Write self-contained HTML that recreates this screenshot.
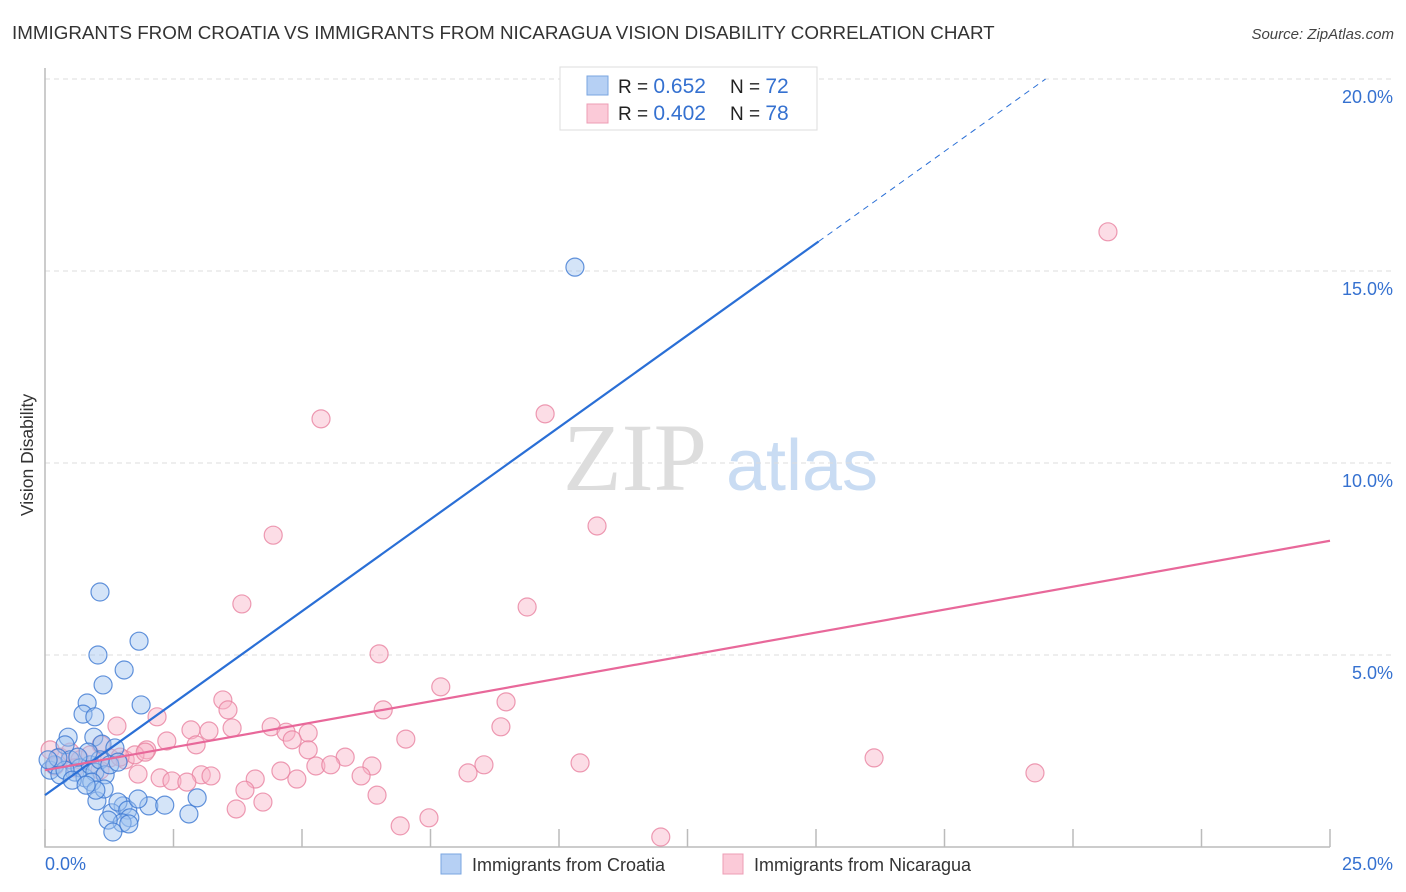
<!DOCTYPE html>
<html><head><meta charset="utf-8">
<style>
body{margin:0;background:#fff;font-family:"Liberation Sans",sans-serif;}
svg{display:block}
</style></head>
<body>
<svg id="chart" width="1406" height="892" xmlns="http://www.w3.org/2000/svg">
<text x="12" y="39" font-size="18.8" fill="#333" font-family="Liberation Sans, sans-serif">IMMIGRANTS FROM CROATIA VS IMMIGRANTS FROM NICARAGUA VISION DISABILITY CORRELATION CHART</text>
<text x="1394" y="39" font-size="15" fill="#444" font-style="italic" text-anchor="end">Source: ZipAtlas.com</text>
<text transform="translate(33,455) rotate(-90)" font-size="17.5" fill="#333" text-anchor="middle">Vision Disability</text>
<g>
<text x="635" y="490" font-size="96" fill="#ddd" font-family="Liberation Serif, serif" text-anchor="middle">ZIP</text>
<text x="802" y="490" font-size="72" fill="#c9dcf3" text-anchor="middle">atlas</text>
</g>
<g id="grid"></g>
<g id="marks"></g>
<g>
<rect x="560" y="67" width="257" height="63" fill="#fff" stroke="#ddd"/>
<rect x="587" y="76" width="21" height="19" fill="#b6d0f4" stroke="#7aa6e0"/>
<rect x="587" y="104" width="21" height="19" fill="#fbcad8" stroke="#ec9db5"/>
<text x="618" y="93" font-size="19" fill="#222">R = <tspan fill="#3571d0" font-size="21">0.652</tspan><tspan x="730">N = </tspan><tspan fill="#3571d0" font-size="21">72</tspan></text>
<text x="618" y="120" font-size="19" fill="#222">R = <tspan fill="#3571d0" font-size="21">0.402</tspan><tspan x="730">N = </tspan><tspan fill="#3571d0" font-size="21">78</tspan></text>
</g>
<g>
<rect x="441" y="854" width="20" height="20" fill="#b6d0f4" stroke="#7aa6e0"/>
<text x="472" y="871" font-size="18" fill="#333">Immigrants from Croatia</text>
<rect x="723" y="854" width="20" height="20" fill="#fbcad8" stroke="#ec9db5"/>
<text x="754" y="871" font-size="18" fill="#333">Immigrants from Nicaragua</text>
</g>
</svg>
<script>
const xTicks=[0,2.5,5,7.5,10,12.5,15,17.5,20,22.5,25];
const yTicks=[5,10,15,20];
const yTickLabels=["5.0%","10.0%","15.0%","20.0%"];
const xEndLabels=["0.0%","25.0%"];
const croatiaX=[1.07,1.83,1.03,1.54,1.13,0.82,1.87,0.74,0.97,0.45,0.95,1.11,1.36,0.39,0.10,0.19,0.29,0.49,0.58,0.68,0.78,0.88,0.97,1.07,1.17,1.26,0.39,0.53,0.25,0.84,0.06,0.91,0.64,1.42,1.01,1.52,1.30,1.42,1.61,1.65,1.50,1.23,1.32,1.63,2.02,2.33,2.96,2.80,1.81,1.15,0.99,0.80,10.31];
const croatiaY=[6.64,5.36,5.00,4.61,4.22,3.75,3.70,3.46,3.39,2.86,2.86,2.68,2.58,2.66,2.0,2.14,1.88,2.27,1.95,2.06,1.80,2.14,1.95,2.27,1.88,2.14,2.0,1.74,2.32,2.47,2.27,1.69,2.34,2.21,1.20,1.07,0.89,1.17,0.96,0.76,0.63,0.70,0.39,0.60,1.07,1.09,1.28,0.86,1.25,1.51,1.48,1.61,15.10];
const nicaraguaX=[20.68,9.73,5.37,4.44,10.74,3.83,9.38,6.50,7.70,3.46,8.97,2.18,6.58,3.56,1.40,4.40,8.87,2.84,3.19,3.64,4.69,5.12,7.02,4.81,2.37,2.94,5.12,1.09,1.98,5.84,5.27,5.56,6.36,8.54,10.41,16.13,19.26,8.23,4.59,6.15,4.90,4.09,3.04,3.23,2.24,2.47,2.76,1.81,3.89,6.46,4.24,3.72,6.91,7.47,11.98,0.10,0.29,0.49,0.68,0.88,1.26,1.56,1.75,1.95,0.19,0.58,1.07,1.46];
const nicaraguaY=[16.02,11.28,11.15,8.12,8.36,6.33,6.25,5.03,4.17,3.83,3.78,3.39,3.57,3.57,3.15,3.13,3.13,3.05,3.02,3.10,2.99,2.97,2.81,2.79,2.76,2.66,2.53,2.66,2.53,2.34,2.11,2.14,2.11,2.14,2.19,2.32,1.93,1.93,1.98,1.85,1.77,1.77,1.88,1.85,1.80,1.72,1.69,1.90,1.48,1.35,1.17,0.99,0.55,0.76,0.26,2.53,2.34,2.47,2.27,2.40,2.32,2.27,2.40,2.47,2.11,2.06,2.0,2.34];
const croatiaFit=[1.35,0.958];
const nicaraguaFit=[2.0,0.239];
const fx=v=>45+v/25*1285;
const fy=v=>847-v/5*192;
const NS="http://www.w3.org/2000/svg";
function mk(tag,attrs,parent){const e=document.createElementNS(NS,tag);for(const k in attrs)e.setAttribute(k,attrs[k]);parent.appendChild(e);return e;}
const grid=document.getElementById('grid');
const marks=document.getElementById('marks');
yTicks.forEach((t,i)=>{
  const l=mk('line',{x1:45,x2:1393,y1:fy(t),y2:fy(t),stroke:'#ddd','stroke-dasharray':'5,4'},grid);
  
  
  const tx=mk('text',{x:1393,y:fy(t)+24,'font-size':18,fill:'#3571d0','text-anchor':'end'},grid);
  tx.textContent=yTickLabels[i];
  
  
});
const ax=mk('path',{d:'M45 68V847H1330',fill:'none',stroke:'#bbb','stroke-width':1.5},grid);


xTicks.forEach(t=>{
  const l=mk('line',{x1:fx(t),x2:fx(t),y1:829,y2:847,stroke:'#bbb','stroke-width':1.5},grid);
  
  
});
const xl0=mk('text',{x:45,y:870,'font-size':18,fill:'#3571d0'},grid);xl0.textContent=xEndLabels[0];


const xl1=mk('text',{x:1393,y:870,'font-size':18,fill:'#3571d0','text-anchor':'end'},grid);xl1.textContent=xEndLabels[1];


function pts(xs,ys,fill,stroke,name){
  xs.forEach((x,i)=>{
    const c=mk('circle',{cx:fx(x),cy:fy(ys[i]),r:9,fill:fill,stroke:stroke,'stroke-width':1.2},marks);
    
    
  });
}
pts(nicaraguaX,nicaraguaY,'rgba(248,180,200,0.45)','rgba(232,130,160,0.8)','point-nicaragua');
pts(croatiaX,croatiaY,'rgba(160,196,240,0.45)','rgba(60,120,210,0.8)','point-croatia');
const cEnd=15.05, cMax=(20.0-croatiaFit[0])/croatiaFit[1];
const bl=mk('line',{x1:fx(0),y1:fy(croatiaFit[0]),x2:fx(cEnd),y2:fy(croatiaFit[0]+croatiaFit[1]*cEnd),stroke:'#2a6fd6','stroke-width':2.2},marks);


const bd=mk('line',{x1:fx(cEnd),y1:fy(croatiaFit[0]+croatiaFit[1]*cEnd),x2:fx(cMax),y2:fy(croatiaFit[0]+croatiaFit[1]*cMax),stroke:'#2a6fd6','stroke-width':1,'stroke-dasharray':'6,5'},marks);


const pl=mk('line',{x1:fx(0),y1:fy(nicaraguaFit[0]),x2:fx(25),y2:fy(nicaraguaFit[0]+nicaraguaFit[1]*25),stroke:'#e8689a','stroke-width':2.2},marks);


</script>
</body></html>
